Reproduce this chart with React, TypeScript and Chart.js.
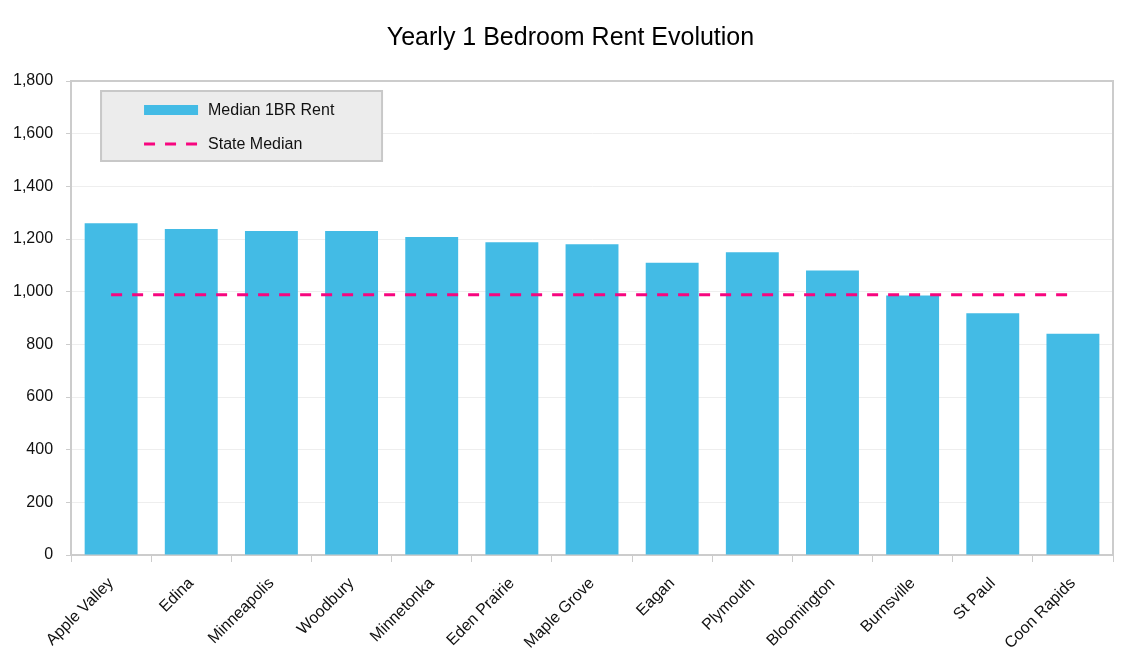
import React, { useEffect, useRef } from "react";
import { Chart, registerables } from "chart.js";

Chart.register(...registerables);

// Cities, ordered as displayed
const categories: string[] = [
  "Apple Valley",
  "Edina",
  "Minneapolis",
  "Woodbury",
  "Minnetonka",
  "Eden Prairie",
  "Maple Grove",
  "Eagan",
  "Plymouth",
  "Bloomington",
  "Burnsville",
  "St Paul",
  "Coon Rapids",
];

// Median one-bedroom rent per city (USD / month)
const medianRent: number[] = [
  1260, 1238, 1230, 1230, 1208, 1188, 1180, 1110, 1150, 1080, 985, 918, 840,
];

// Statewide median one-bedroom rent
const stateMedian = 988;

// Y axis range and step
const yMin = 0;
const yMax = 1800;
const yStep = 200;

const BAR_COLOR = "#43bbe5";
const LINE_COLOR = "#f7067f";
const FRAME_COLOR = "#cccccc";
const FONT_FAMILY = '"Liberation Sans", Arial, Helvetica, sans-serif';

// Draws the frame around the plot area and the boxed legend inside it
const frameAndLegend = {
  id: "frameAndLegend",
  afterDatasetsDraw(chart: any) {
    const { ctx, chartArea } = chart;
    ctx.save();
    // top and right frame lines
    ctx.strokeStyle = FRAME_COLOR;
    ctx.lineWidth = 2;
    ctx.beginPath();
    ctx.moveTo(chartArea.left, chartArea.top);
    ctx.lineTo(chartArea.right, chartArea.top);
    ctx.lineTo(chartArea.right, chartArea.bottom);
    ctx.stroke();

    // legend box
    const bx = chartArea.left + 30;
    const by = chartArea.top + 10;
    const bw = 281;
    const bh = 70;
    ctx.fillStyle = "#ececec";
    ctx.fillRect(bx, by, bw, bh);
    ctx.strokeStyle = "#c8c8c8";
    ctx.lineWidth = 2;
    ctx.strokeRect(bx, by, bw, bh);

    const ds = chart.data.datasets;
    const swX = bx + 43;
    const swW = 54;
    const textX = bx + 107;
    const row1 = by + 19;
    const row2 = by + 53;

    // bar swatch
    ctx.fillStyle = ds[0].backgroundColor;
    ctx.fillRect(swX, row1 - 5, swW, 10);
    // line swatch
    ctx.strokeStyle = ds[1].borderColor;
    ctx.lineWidth = 3;
    ctx.setLineDash([11, 10]);
    ctx.beginPath();
    ctx.moveTo(swX, row2);
    ctx.lineTo(swX + swW, row2);
    ctx.stroke();
    ctx.setLineDash([]);

    ctx.fillStyle = "#111111";
    ctx.font = `16px ${FONT_FAMILY}`;
    ctx.textBaseline = "middle";
    ctx.textAlign = "left";
    ctx.fillText(ds[0].label, textX, row1 + 1);
    ctx.fillText(ds[1].label, textX, row2 + 1);
    ctx.restore();
  },
};

export default function App() {
  const canvasRef = useRef<HTMLCanvasElement | null>(null);

  useEffect(() => {
    if (!canvasRef.current) return;
    Chart.defaults.font.family = FONT_FAMILY;
    const chart = new Chart(canvasRef.current, {
      type: "bar",
      data: {
        labels: categories,
        datasets: [
          {
            type: "bar",
            label: "Median 1BR Rent",
            data: medianRent,
            backgroundColor: BAR_COLOR,
            barPercentage: 0.66,
            categoryPercentage: 1,
            order: 2,
          },
          {
            type: "line",
            label: "State Median",
            data: categories.map(() => stateMedian),
            borderColor: LINE_COLOR,
            borderWidth: 3,
            borderDash: [11, 10],
            pointRadius: 0,
            fill: false,
            order: 1,
          } as any,
        ],
      },
      options: {
        animation: false,
        responsive: true,
        maintainAspectRatio: false,
        layout: { padding: { left: -8, right: -8, top: 0, bottom: 2 } },
        plugins: {
          legend: { display: false },
          tooltip: { enabled: false },
          title: {
            display: true,
            text: "Yearly 1 Bedroom Rent Evolution",
            color: "#000000",
            font: { size: 25, weight: "normal" },
            padding: { top: 15, bottom: 28 },
          },
        },
        scales: {
          x: {
            offset: true,
            afterFit: (scale: any) => {
              // rotated labels may hang past the left edge; keep a fixed right gap
              scale.paddingLeft = 0;
              scale.paddingRight = 20;
              scale.height = scale.height - 12;
            },
            grid: {
              offset: true,
              drawOnChartArea: false,
              drawTicks: true,
              tickLength: 7,
              tickColor: FRAME_COLOR,
            },
            border: { color: FRAME_COLOR, width: 2 },
            ticks: {
              color: "#111111",
              font: { size: 16 },
              minRotation: 45,
              maxRotation: 45,
              padding: 12,
              autoSkip: false,
            },
          },
          y: {
            min: yMin,
            max: yMax,
            grid: {
              color: "#eeeeee",
              tickColor: FRAME_COLOR,
              tickLength: 5,
            },
            border: { color: FRAME_COLOR, width: 2 },
            ticks: {
              stepSize: yStep,
              color: "#111111",
              font: { size: 16 },
              padding: 13,
              callback: (v: any) => Number(v).toLocaleString("en-US"),
            },
          },
        },
      },
      plugins: [frameAndLegend],
    });
    return () => chart.destroy();
  }, []);

  return (
    <div style={{ position: "relative", width: 1125, height: 647 }}>
      <canvas ref={canvasRef} />
    </div>
  );
}
